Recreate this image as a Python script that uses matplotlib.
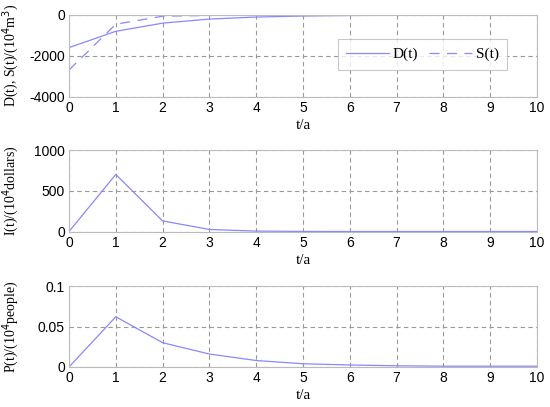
import matplotlib
matplotlib.use("Agg")
import matplotlib.pyplot as plt

t = [0, 1, 2, 3, 4, 5, 6, 7, 8, 9, 10]
D = [-1600, -800, -400, -200, -100, -50, -25, -12, -6, -3, -1]
S = [-2700, -450, -60, -20, -5, -1, 0, 0, 0, 0, 0]
I = [0, 700, 130, 25, 5, 1, 0, 0, 0, 0, 0]
P = [0, 0.062, 0.030, 0.016, 0.008, 0.004, 0.0025, 0.0015, 0.001, 0.001, 0.001]

line_color = "#8888ff"
tick_font = "Liberation Sans"
label_font = "Liberation Serif"

fig = plt.figure(figsize=(5.5, 4.07), dpi=100)
W, H = 550, 407
x0, x1 = 69, 537

def make_ax(ytop, ybot):
    return fig.add_axes([x0 / W, 1 - ybot / H, (x1 - x0) / W, (ybot - ytop) / H])

ax1 = make_ax(15, 96.5)
ax2 = make_ax(150, 231.5)
ax3 = make_ax(286, 367)

def style(ax, ylim, yticks, yticklabels, ylabel):
    ax.set_xlim(0, 10)
    ax.set_ylim(*ylim)
    ax.set_xticks(range(0, 11))
    ax.set_yticks(yticks)
    ax.set_yticklabels(yticklabels, family=tick_font, fontsize=10)
    for lab in ax.get_xticklabels():
        lab.set_family(tick_font)
        lab.set_fontsize(10)
    ax.grid(True, linestyle=(0, (4, 3)), color="#999999", linewidth=0.8)
    for sp in ax.spines.values():
        sp.set_color("#bbbbbb")
        sp.set_linewidth(0.8)
    ax.tick_params(length=0, pad=3)
    ax.set_xlabel("t/a", family=label_font, fontsize=11, labelpad=3)
    ax.set_ylabel(ylabel, family=label_font, fontsize=10)
    ax.yaxis.set_label_coords((21 - x0) / (x1 - x0), 0.5)

ax1.plot(t, D, color=line_color, linewidth=0.9, label="D(t)")
ax1.plot(t, S, color=line_color, linewidth=0.9, linestyle=(0, (8, 6)), label="S(t)")
style(ax1, (-4000, 0), [-4000, -2000, 0], ["-4000", "-2000", "0"],
      r"D(t), S(t)/(10$^4$m$^3$)")
leg = ax1.legend(ncol=2, loc="upper left",
                 bbox_to_anchor=((338 - x0) / (x1 - x0), 1 - (39 - 15) / 81.5),
                 borderaxespad=0,
                 prop={"family": label_font, "size": 11}, frameon=True, fancybox=False,
                 handlelength=2.8, columnspacing=0.7, borderpad=0.55, handletextpad=0.25)
leg.get_frame().set_edgecolor("#bbbbbb")
leg.get_frame().set_linewidth(0.8)

ax2.plot(t, I, color=line_color, linewidth=0.9)
style(ax2, (0, 1000), [0, 500, 1000], ["0", "500", "1000"], r"I(t)/(10$^4$dollars)")

ax3.plot(t, P, color=line_color, linewidth=0.9)
style(ax3, (0, 0.1), [0, 0.05, 0.1], ["0", "0.05", "0.1"], r"P(t)/(10$^4$people)")

fig.savefig("out.png", dpi=100)
